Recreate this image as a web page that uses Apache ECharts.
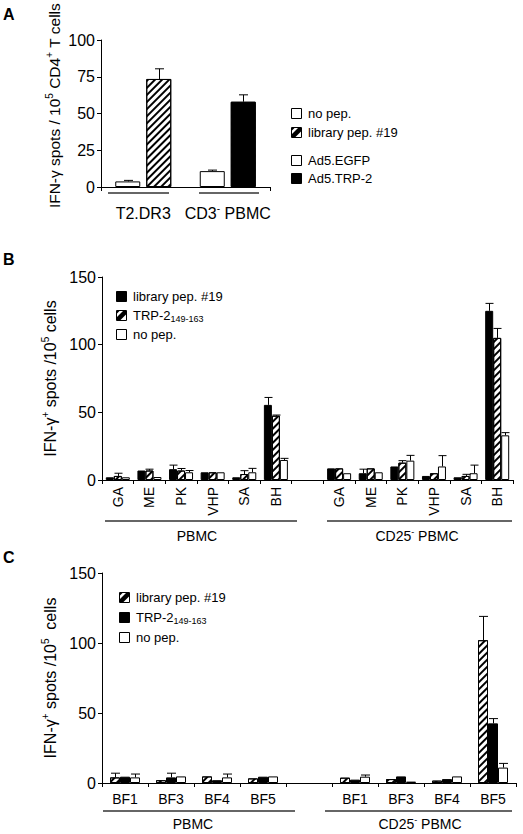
<!DOCTYPE html>
<html><head><meta charset="utf-8">
<script src="https://cdn.jsdelivr.net/npm/echarts/dist/echarts.min.js"></script>
<style>html,body{margin:0;padding:0;background:#fff}#c{width:523px;height:834px}</style>
</head><body><div id="c"></div><script>
// ---------- Panel A ----------
const aCategories = ['T2.DR3', 'CD3- PBMC'];
const aFirstValues = [3.8, 10.8];
const aFirstErrors = [4.5, 11.5];
const aSecondValues = [73.5, 58];
const aSecondErrors = [80.4, 62.7];
const aYTicks = [0, 25, 50, 75, 100];

// ---------- Panel B ----------
const bCategories = ['GA', 'ME', 'PK', 'VHP', 'SA', 'BH'];
const bGroups = ['PBMC', 'CD25- PBMC'];
const bLibraryPBMC = [2, 7, 8, 5.7, 2, 55.5];
const bLibraryPBMCErr = [2, 7, 11, 5.7, 2, 61];
const bTrpPBMC = [3, 7, 7, 5.7, 4.4, 47.5];
const bTrpPBMCErr = [5, 8, 8.5, 5.7, 6.9, 48];
const bNoPepPBMC = [2, 2.2, 5.7, 5.7, 5.7, 14.8];
const bNoPepPBMCErr = [2, 2.2, 7, 5.7, 8.6, 16];
const bLibraryCD25 = [8.6, 5, 10, 3, 2, 125];
const bLibraryCD25Err = [8.6, 8, 10, 3, 2, 130.5];
const bTrpCD25 = [8.6, 8.6, 12.8, 5, 3, 105];
const bTrpCD25Err = [8.6, 8.6, 14.3, 5, 4.2, 112];
const bNoPepCD25 = [5, 5.7, 14.3, 10, 5, 33];
const bNoPepCD25Err = [5, 5.7, 18.2, 18, 11, 35];
const bYTicks = [0, 50, 100, 150];

// ---------- Panel C ----------
const cCategories = ['BF1', 'BF3', 'BF4', 'BF5'];
const cGroups = ['PBMC', 'CD25- PBMC'];
const cLibraryPBMC = [4, 2, 4.7, 3.3];
const cLibraryPBMCErr = [7, 2, 4.7, 3.3];
const cTrpPBMC = [4.5, 4, 2, 4.5];
const cTrpPBMCErr = [4.5, 7, 2, 4.5];
const cNoPepPBMC = [4, 4.7, 4, 4.7];
const cNoPepPBMCErr = [6.4, 4.7, 6.4, 4.7];
const cLibraryCD25 = [3.8, 2.8, 1.7, 102];
const cLibraryCD25Err = [3.8, 2.8, 1.7, 119];
const cTrpCD25 = [2.4, 4.7, 2.8, 42.6];
const cTrpCD25Err = [2.4, 4.7, 2.8, 46];
const cNoPepCD25 = [4.5, 1, 4.7, 11];
const cNoPepCD25Err = [5.7, 1, 4.7, 14];
const cYTicks = [0, 50, 100, 150];

// ---------- helpers ----------
const FONT = 'Liberation Sans, Arial, sans-serif';
const BLACK = '#000';
const hatch = {
  symbol: 'rect', symbolSize: 1, dashArrayX: [1, 0], dashArrayY: [2, 3],
  rotation: -Math.PI / 4, color: '#000', backgroundColor: '#fff'
};
const styles = {
  white: { color: '#fff', borderColor: BLACK, borderWidth: 1 },
  black: { color: '#000', borderColor: BLACK, borderWidth: 1 },
  hatch: { color: '#fff', borderColor: BLACK, borderWidth: 1, decal: hatch }
};

function joinGroups(a, b) { return a.concat([null], b); }
function catKeys(cats, groups) {
  return cats.map(c => groups[0] + '|' + c).concat([' '], cats.map(c => groups[1] + '|' + c));
}
function catLabel(v) { const i = v.indexOf('|'); return i >= 0 ? v.slice(i + 1) : ''; }

function errRender(idx, count, barW, gap, capW) {
  return function (params, api) {
    const v = api.value(1), e = api.value(2);
    if (!(e > v)) return null;
    const p0 = api.coord([api.value(0), v]);
    const p1 = api.coord([api.value(0), e]);
    const cx = Math.round(p0[0] + (idx - (count - 1) / 2) * (barW + gap)) + 0.5;
    return {
      type: 'group', children: [
        { type: 'line', shape: { x1: cx, y1: p0[1], x2: cx, y2: p1[1] }, style: { stroke: BLACK, lineWidth: 1 } },
        { type: 'line', shape: { x1: cx - capW / 2, y1: p1[1], x2: cx + capW / 2, y2: p1[1] }, style: { stroke: BLACK, lineWidth: 1 } }
      ]
    };
  };
}
function errData(vals, errs) {
  return vals.map((v, i) => [i, v, errs[i]]).filter(d => d[1] != null);
}

const series = [];
function addBars(gridIdx, name, vals, errs, style, idx, count, barW, gapPct, capW) {
  series.push({
    type: 'bar', name: name, xAxisIndex: gridIdx, yAxisIndex: gridIdx,
    data: vals.map((v, i) => (v == null ? null : { value: v, itemStyle: Array.isArray(style) ? style[i] : style })),
    barWidth: barW, barGap: gapPct + '%', itemStyle: Array.isArray(style) ? style[0] : style,
    animation: false, silent: true
  });
  series.push({
    type: 'custom', xAxisIndex: gridIdx, yAxisIndex: gridIdx, data: errData(vals, errs),
    renderItem: errRender(idx, count, barW, barW * gapPct / 100, capW), animation: false, silent: true, z: 3
  });
}

// Panel A
addBars(0, 'first', aFirstValues, aFirstErrors, [styles.white, styles.white], 0, 2, 25, 24, 9);
addBars(0, 'second', aSecondValues, aSecondErrors, [styles.hatch, styles.black], 1, 2, 25, 24, 9);
// Panel B
addBars(1, 'library pep. #19', joinGroups(bLibraryPBMC, bLibraryCD25), joinGroups(bLibraryPBMCErr, bLibraryCD25Err), styles.black, 0, 3, 8, 0, 8);
addBars(1, 'TRP-2', joinGroups(bTrpPBMC, bTrpCD25), joinGroups(bTrpPBMCErr, bTrpCD25Err), styles.hatch, 1, 3, 8, 0, 8);
addBars(1, 'no pep.', joinGroups(bNoPepPBMC, bNoPepCD25), joinGroups(bNoPepPBMCErr, bNoPepCD25Err), styles.white, 2, 3, 8, 0, 8);
// Panel C
addBars(2, 'library pep. #19', joinGroups(cLibraryPBMC, cLibraryCD25), joinGroups(cLibraryPBMCErr, cLibraryCD25Err), styles.hatch, 0, 3, 10, 0, 9);
addBars(2, 'TRP-2', joinGroups(cTrpPBMC, cTrpCD25), joinGroups(cTrpPBMCErr, cTrpCD25Err), styles.black, 1, 3, 10, 0, 9);
addBars(2, 'no pep.', joinGroups(cNoPepPBMC, cNoPepCD25), joinGroups(cNoPepPBMCErr, cNoPepCD25Err), styles.white, 2, 3, 10, 0, 9);

const supRich = (size) => ({
  n: { fontSize: size, fontFamily: FONT, color: BLACK, lineHeight: size + 4, verticalAlign: 'middle' },
  sup: { fontSize: Math.round(size * 0.62), fontFamily: FONT, color: BLACK, lineHeight: 10, verticalAlign: 'top' },
  sub: { fontSize: Math.round(size * 0.7), fontFamily: FONT, color: BLACK, lineHeight: 8, verticalAlign: 'bottom' }
});

const axisLineStyle = { show: true, lineStyle: { color: BLACK, width: 1 } };
function yAxis(gridIdx, ticks, fontSize, name, nameSize, nameGap, namePad) {
  return {
    type: 'value', gridIndex: gridIdx, min: ticks[0], max: ticks[ticks.length - 1],
    interval: ticks[1] - ticks[0], axisLine: axisLineStyle,
    axisTick: { show: true, length: 4, lineStyle: { color: BLACK } },
    splitLine: { show: false },
    axisLabel: { color: BLACK, fontSize: fontSize, fontFamily: FONT, margin: 6 },
    name: name, nameLocation: 'middle', nameGap: nameGap,
    nameTextStyle: { color: BLACK, fontSize: nameSize, fontFamily: FONT, rich: supRich(nameSize), padding: namePad || 0 }
  };
}
function supText(s) {
  const m = s.match(/^(CD\d+)- (.*)$/);
  return m ? '{n|' + m[1] + '}{sup|-}{n| ' + m[2] + '}' : '{n|' + s + '}';
}

const option = {
  animation: false,
  backgroundColor: '#fff',
  textStyle: { fontFamily: FONT, color: BLACK },
  grid: [
    { left: 101, top: 40, width: 169, height: 147 },
    { left: 102, top: 277, width: 411, height: 203 },
    { left: 102, top: 573, width: 414, height: 210 }
  ],
  xAxis: [
    {
      type: 'category', gridIndex: 0, data: aCategories, axisLine: axisLineStyle,
      axisTick: { show: true, length: 4, interval: (i) => i === 0, lineStyle: { color: BLACK } },
      axisLabel: { color: BLACK, fontSize: 16, fontFamily: FONT, margin: 16, interval: 0,
        formatter: (v) => supText(v), rich: supRich(16) }
    },
    {
      type: 'category', gridIndex: 1, data: catKeys(bCategories, bGroups), axisLine: axisLineStyle,
      axisTick: { show: true, length: 4, interval: 0, lineStyle: { color: BLACK } },
      axisLabel: { color: BLACK, fontSize: 14, fontFamily: FONT, margin: 7, rotate: 90, interval: 0, formatter: catLabel }
    },
    {
      type: 'category', gridIndex: 2, data: catKeys(cCategories, cGroups), axisLine: axisLineStyle,
      axisTick: { show: true, length: 4, interval: 0, lineStyle: { color: BLACK } },
      axisLabel: { color: BLACK, fontSize: 14, fontFamily: FONT, margin: 9, interval: 0, formatter: catLabel }
    }
  ],
  yAxis: [
    yAxis(0, aYTicks, 16, '{n|IFN-γ spots / 10}{sup|5}{n| CD4}{sup|+}{n| T cells}', 15.5, 37, [0, 0, 0, 16]),
    yAxis(1, bYTicks, 16, '{n|IFN-γ}{sup|+}{n| spots /10}{sup|5}{n| cells}', 16, 37),
    yAxis(2, cYTicks, 16, '{n|IFN-γ}{sup|+}{n| spots /10}{sup|5}{n|  cells}', 16, 37)
  ],
  series: series,
  graphic: []
};

// group underlines and labels, panel letters, legends (decoration)
const G = option.graphic;
function hline(x1, x2, y) { G.push({ type: 'line', shape: { x1, y1: y, x2, y2: y }, style: { stroke: '#333', lineWidth: 1.5 }, silent: true }); }
function label(text, x, y, size, align) {
  G.push({ type: 'text', x, y, silent: true, style: { text, fontSize: size, fontFamily: FONT, fill: BLACK, align: align || 'center', verticalAlign: 'middle', rich: supRich(size) } });
}
hline(108, 169, 193); hline(199, 259, 193);
hline(105, 297, 521); hline(327, 512, 521);
label('{n|PBMC}', 197, 536, 14);
label(supText('CD25- PBMC'), 417, 536, 14);
hline(103, 295, 811); hline(325, 512, 811);
label('{n|PBMC}', 193, 824, 14);
label(supText('CD25- PBMC'), 420, 824, 14);
// panel letters
['A', 'B', 'C'].forEach((t, i) => G.push({ type: 'text', x: 3, y: [14, 259, 557][i], silent: true,
  style: { text: t, fontSize: 16, fontWeight: 'bold', fontFamily: FONT, fill: BLACK, verticalAlign: 'middle' } }));

function legendItem(x, y, style, text) {
  G.push({ type: 'rect', shape: { x: x + 0.5, y: y - 4.5, width: 10, height: 10 }, silent: true,
    style: { fill: style === 'black' ? '#000' : '#fff', stroke: BLACK, lineWidth: 1 } });
  if (style === 'hatch') {
    G.push({ type: 'polygon', shape: { points: [[x + 1, y + 5.5], [x + 4, y + 5.5], [x + 10.5, y - 1], [x + 10.5, y - 4], [x + 7.5, y - 4.5], [x + 1, y + 2]] }, silent: true, style: { fill: '#000' } });
    G.push({ type: 'polygon', shape: { points: [[x + 1, y - 4], [x + 3.5, y - 4], [x + 1, y - 1.5]] }, silent: true, style: { fill: '#000' } });
  }
  label(text, x + 17, y, 13, 'left');
}
legendItem(291, 113, 'white', '{n|no pep.}');
legendItem(291, 132, 'hatch', '{n|library pep. #19}');
legendItem(291, 160, 'white', '{n|Ad5.EGFP}');
legendItem(291, 178, 'black', '{n|Ad5.TRP-2}');
legendItem(116, 296, 'black', '{n|library pep. #19}');
legendItem(116, 315, 'hatch', '{n|TRP-2}{sub|149-163}');
legendItem(116, 334, 'white', '{n|no pep.}');
legendItem(119, 597, 'hatch', '{n|library pep. #19}');
legendItem(119, 617, 'black', '{n|TRP-2}{sub|149-163}');
legendItem(119, 637, 'white', '{n|no pep.}');

const chart = echarts.init(document.getElementById('c'), null, { renderer: 'svg', width: 523, height: 834 });
chart.setOption(option);
</script></body></html>
